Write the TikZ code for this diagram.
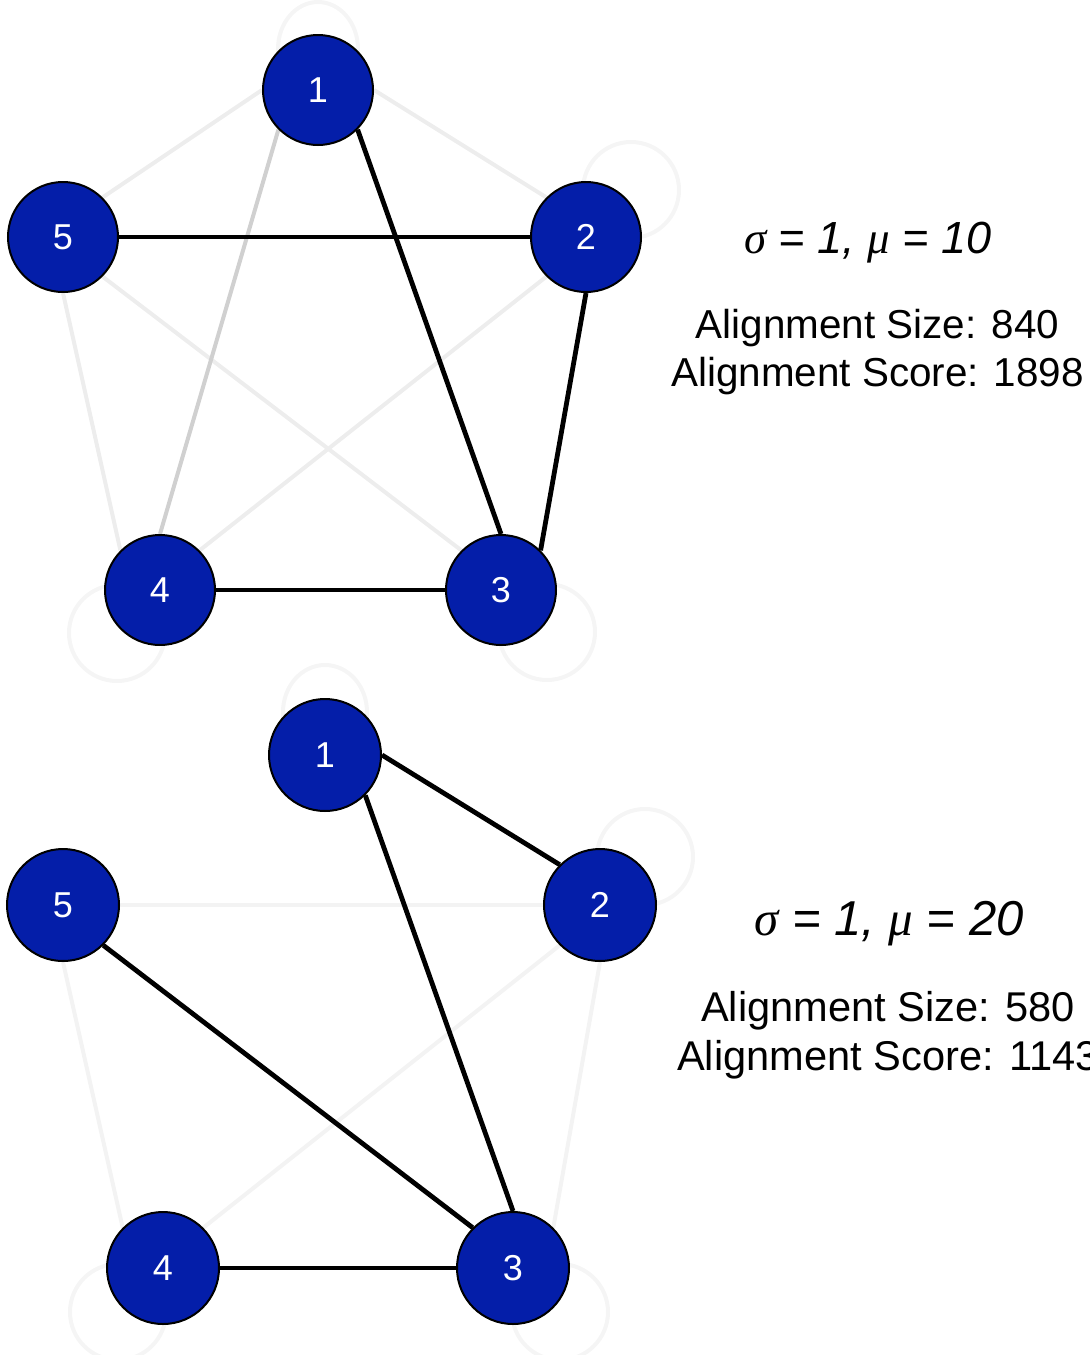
\documentclass[tikz,border=0pt]{standalone}
\usepackage{fontspec}
\setmainfont{Liberation Sans}
\newfontfamily\grserif{Liberation Serif}
\definecolor{nodeblue}{HTML}{041EA9}
\definecolor{faintA}{HTML}{EDEDED}
\definecolor{midgray}{HTML}{D0D0D0}
\definecolor{faintB}{HTML}{F3F3F3}
\definecolor{loopc}{HTML}{F5F5F5}
\pgfdeclarelayer{background}
\pgfsetlayers{background,main}
\begin{document}
\begin{tikzpicture}[x=0.5pt,y=-0.5pt,
  vtx/.style={circle, draw=black, line width=1pt, fill=nodeblue, text=white,
    minimum size=55pt, inner sep=0pt, font=\fontsize{18}{20}\selectfont},
  vtxb/.style={vtx, minimum size=56pt},
  strong/.style={line width=2.4pt, draw=black},
  weakA/.style={line width=2pt, draw=faintA},
  weakM/.style={line width=2pt, draw=midgray},
  weakB/.style={line width=2pt, draw=faintB},
  selfloop/.style={line width=2pt, draw=loopc},
  param/.style={font=\fontsize{22.5}{26}\selectfont\itshape, anchor=center},
  paramb/.style={font=\fontsize{24.5}{28}\selectfont\itshape, anchor=center},
  stats/.style={font=\fontsize{20.2}{24}\selectfont, align=center, anchor=center},
  statsb/.style={font=\fontsize{20.8}{24.6}\selectfont, align=center, anchor=center}
]
\useasboundingbox (0,0) rectangle (1090,1355);
\clip (0,0) rectangle (1090,1355);

% ---------------- top graph ----------------
\node[vtx] (t1) at (318,90) {1};
\node[vtx] (t2) at (586,237) {2};
\node[vtx] (t3) at (501,590) {3};
\node[vtx] (t4) at (160,590) {4};
\node[vtx] (t5) at (63,237) {5};

\begin{pgfonlayer}{background}
% self loops
\draw[selfloop] ([shift={(0,-41)}]t1.center) ellipse [x radius=20pt, y radius=23.5pt];
\draw[selfloop] ([shift={(45,-47)}]t2.center) circle (24pt);
\draw[selfloop] ([shift={(46,42)}]t3.center) circle (24pt);
\draw[selfloop] ([shift={(-43,43)}]t4.center) circle (24pt);
% faint edges
\draw[weakA] (t1.180) -- (t5.45);
\draw[weakA] (t1.0) -- (t2.135);
\draw[weakA] (t5.-45) -- (t3.135);
\draw[weakA] (t2.-135) -- (t4.45);
\draw[weakA] (t5.-90) -- (t4.135);
\draw[weakM] (t1.-135) -- (t4.90);
% strong edges
\draw[strong] (t1.-45) -- (t3.90);
\draw[strong] (t5.0) -- (t2.180);
\draw[strong] (t2.-90) -- (t3.45);
\draw[strong] (t4.0) -- (t3.180);
\end{pgfonlayer}

\node[param] (p1) at (868,243) {{\grserif σ} = 1, {\grserif μ} = 10};
\node[stats] (s1) at (877.5,352) {Alignment Size: 840\\Alignment Score: 1898};

% ---------------- bottom graph ----------------
\node[vtxb] (u1) at (325,755) {1};
\node[vtxb] (u2) at (600,905) {2};
\node[vtxb] (u3) at (513,1268) {3};
\node[vtxb] (u4) at (163,1268) {4};
\node[vtxb] (u5) at (63,905) {5};

\begin{pgfonlayer}{background}
\draw[selfloop] ([shift={(0,-43)}]u1.center) ellipse [x radius=21pt, y radius=23.5pt];
\draw[selfloop] ([shift={(45,-48)}]u2.center) circle (24pt);
\draw[selfloop] ([shift={(47,44)}]u3.center) circle (24pt);
\draw[selfloop] ([shift={(-45,44)}]u4.center) circle (24pt);

\draw[weakB] (u5.0) -- (u2.180);
\draw[weakB] (u2.-135) -- (u4.45);
\draw[weakB] (u5.-90) -- (u4.135);
\draw[weakB] (u2.-90) -- (u3.45);

\draw[strong] (u1.0) -- (u2.135);
\draw[strong] (u1.-45) -- (u3.90);
\draw[strong] (u5.-45) -- (u3.135);
\draw[strong] (u4.0) -- (u3.180);
\end{pgfonlayer}

\node[paramb] (p2) at (889,924) {{\grserif σ} = 1, {\grserif μ} = 20};
\node[statsb] (s2) at (888,1035) {Alignment Size: 580\\Alignment Score: 1143};

\end{tikzpicture}
\end{document}
